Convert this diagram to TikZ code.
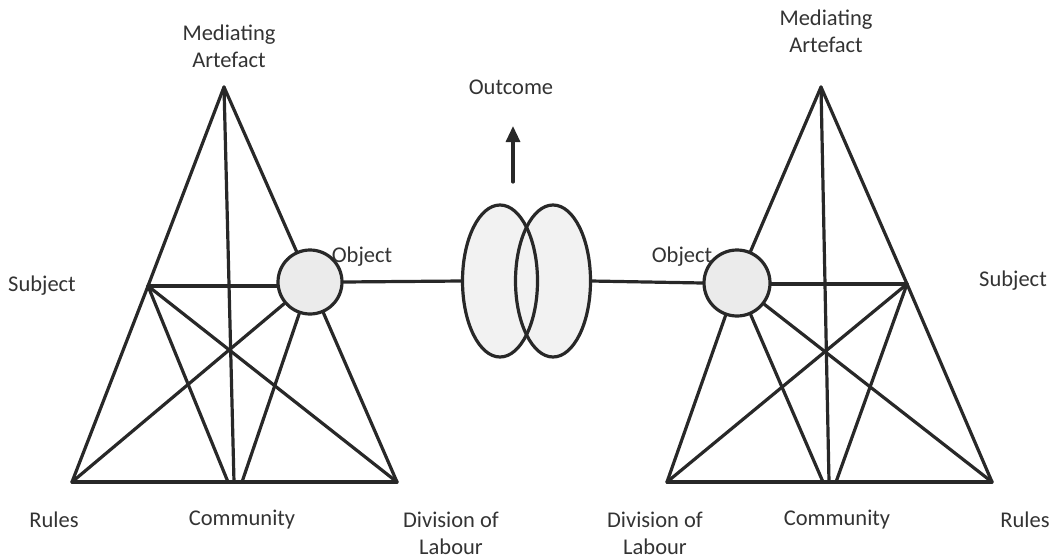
\documentclass[tikz,border=0pt]{standalone}
\usepackage{fontspec}
\setmainfont{Carlito}
\usetikzlibrary{arrows.meta,shapes.geometric}
\definecolor{ink}{HTML}{282828}
\definecolor{txt}{HTML}{333333}
\definecolor{cfill}{HTML}{EBEBEB}
\definecolor{efill}{HTML}{F2F2F2}
\begin{document}
\begin{tikzpicture}[x=1pt,y=-1pt,
  edge/.style={draw=ink,line width=3.2pt,line cap=round,line join=round},
  objcircle/.style={circle,draw=ink,fill=cfill,line width=3.2pt,minimum size=64pt,inner sep=0pt},
  outell/.style={ellipse,minimum width=75pt,minimum height=152pt,inner sep=0pt,fill=efill},
  lab/.style={text=txt,font=\fontsize{22.5}{27}\selectfont,align=center,inner sep=0pt}]
\useasboundingbox (0,0) rectangle (1059,559);
% ---------- left triangle ----------
\coordinate (M1) at (224,87);
\coordinate (S1) at (148,286);
\coordinate (R1) at (72,482);
\coordinate (C1) at (234,482);
\coordinate (C1a) at (228,482);
\coordinate (C1b) at (242,482);
\coordinate (D1) at (397,482);
\node[objcircle] (O1) at (310,282) {};
\draw[edge] (M1) -- (S1);
\draw[edge] (M1) -- (O1);
\draw[edge] (M1) -- (C1);
\draw[edge] (S1) -- (O1.west |- S1);
\draw[edge] (S1) -- (R1);
\draw[edge] (S1) -- (C1a);
\draw[edge] (S1) -- (D1);
\draw[edge] (O1) -- (R1);
\draw[edge] (O1) -- (C1b);
\draw[edge] (O1) -- (D1);
\draw[edge] (R1) -- (D1);
% ---------- right triangle ----------
\coordinate (M2) at (821,87);
\coordinate (S2) at (907,284);
\coordinate (R2) at (992,482);
\coordinate (C2) at (829,482);
\coordinate (C2a) at (836,482);
\coordinate (C2b) at (823,482);
\coordinate (D2) at (667,482);
\node[objcircle,minimum size=66pt] (O2) at (737,283) {};
\draw[edge] (M2) -- (S2);
\draw[edge] (M2) -- (O2);
\draw[edge] (M2) -- (C2);
\draw[edge] (S2) -- (O2.east |- S2);
\draw[edge] (S2) -- (R2);
\draw[edge] (S2) -- (C2a);
\draw[edge] (S2) -- (D2);
\draw[edge] (O2) -- (R2);
\draw[edge] (O2) -- (C2b);
\draw[edge] (O2) -- (D2);
\draw[edge] (R2) -- (D2);
% ---------- outcome ellipses ----------
\node[outell] (E1) at (500,281) {};
\node[outell] (E2) at (553,281) {};
\draw[edge] (E1.center) ellipse [x radius=37.5,y radius=76];
\draw[edge] (E2.center) ellipse [x radius=37.5,y radius=76];
\draw[edge] (O1.east) -- (E1.west);
\draw[edge] (E2.east) -- (O2.west);
\coordinate (A0) at (513,182);
\coordinate (A1) at (513,126);
\draw[edge,-{Triangle[length=16pt,width=14pt]}] (A0) -- (A1);
% ---------- labels ----------
\node[lab] (lM1) at (229,46) {Mediating\\Artefact};
\node[lab] (lO1) at (362,257) {Object};
\node[lab] (lS1) at (42,286) {Subject};
\node[lab] (lR1) at (54,520) {Rules};
\node[lab] (lC1) at (242,520) {Community};
\node[lab] (lD1) at (451,533) {Division of\\Labour};
\node[lab] (lOut) at (511,87) {Outcome};
\node[lab] (lM2) at (826,31) {Mediating\\Artefact};
\node[lab] (lO2) at (682,257) {Object};
\node[lab] (lS2) at (1013,281) {Subject};
\node[lab] (lD2) at (655,533) {Division of\\Labour};
\node[lab] (lC2) at (837,520) {Community};
\node[lab] (lR2) at (1025,520) {Rules};
\end{tikzpicture}
\end{document}
